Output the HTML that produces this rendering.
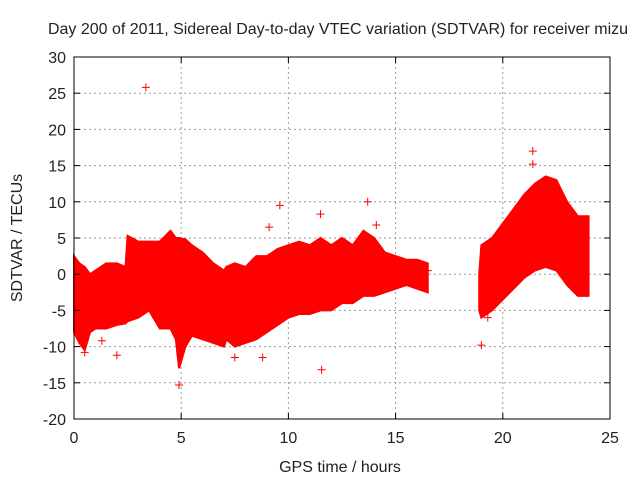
<!DOCTYPE html>
<html><head><meta charset="utf-8"><style>
body{margin:0;background:#fff}
svg text{font-family:"Liberation Sans",sans-serif;font-size:16px;fill:#222}
</style></head><body>
<svg id="c" width="640" height="480" xmlns="http://www.w3.org/2000/svg">
<rect width="640" height="480" fill="#fff"/>
<text x="338" y="34" text-anchor="middle">Day 200 of 2011, Sidereal Day-to-day VTEC variation (SDTVAR) for receiver mizu</text>
<text x="340" y="472" text-anchor="middle">GPS time / hours</text>
<text transform="translate(22,238) rotate(-90)" text-anchor="middle">SDTVAR / TECUs</text>
<g id="grid"></g><g id="data"></g><g id="axes"></g>
</svg>
<script>
const xTicks=[0,5,10,15,20,25];
const yTicks=[-20,-15,-10,-5,0,5,10,15,20,25,30];
const seg1T=[0,0.25,0.5,0.75,1,1.5,2,2.4,2.5,3,3.5,4,4.5,4.75,4.9,5.2,5.5,6,6.5,7,7.1,7.5,8,8.5,9,9.5,10,10.5,11,11.5,12,12.5,13,13.5,14,14.5,15,15.5,16,16.5];
const seg1Up=[2.5,1.5,1,0,0.5,1.5,1.5,1,5.3,4.5,4.5,4.5,6,5,5,4.8,4,3,1.5,0.5,1,1.5,1,2.5,2.5,3.5,4,4.5,4,5,4,5,4,6,5,3,2.5,2,2,1.5];
const seg1Lo=[-8,-9.5,-10.5,-8,-7.5,-7.5,-7,-6.8,-6.5,-6,-5,-7.5,-7.5,-9,-13,-10,-8.5,-9,-9.5,-10,-9,-10,-9.5,-9,-8,-7,-6,-5.5,-5.5,-5,-5,-4,-4,-3,-3,-2.5,-2,-1.5,-2,-2.5];
const seg2T=[18.9,19,19.5,20,20.5,21,21.5,22,22.5,23,23.5,24];
const seg2Up=[0,4,5,7,9,11,12.5,13.5,13,10,8,8];
const seg2Lo=[-5,-6,-5,-3.5,-2,-0.5,0.5,1,0.5,-1.5,-3,-3];
const outT=[3.35,11.55,9.1,9.6,21.4,21.4,19.0,19.3,0.5,2.0,4.9,1.3,14.1,11.5,13.7,8.8,7.5,16.5];
const outV=[25.8,-13.2,6.5,9.5,17,15.2,-9.8,-6,-10.8,-11.2,-15.3,-9.2,6.8,8.3,10,-11.5,-11.5,0.5];
const L=74,R=610,T=57,B=419;
const sx=v=>L+(v-0)/25*(R-L), sy=v=>B-(v+20)/50*(B-T);
const NS="http://www.w3.org/2000/svg";
function mk(p,tag,a){const e=document.createElementNS(NS,tag);for(const k in a)e.setAttribute(k,a[k]);p.appendChild(e);return e;}
const g=document.getElementById('grid'),d=document.getElementById('data'),ax=document.getElementById('axes');
xTicks.forEach(v=>{
 if(v>0&&v<25){const l=mk(g,'line',{x1:sx(v),x2:sx(v),y1:T,y2:B,stroke:'#999','stroke-dasharray':'2,3'});
 }
 mk(ax,'line',{x1:sx(v),x2:sx(v),y1:B,y2:B-6,stroke:'#000'});
 mk(ax,'line',{x1:sx(v),x2:sx(v),y1:T,y2:T+6,stroke:'#000'});
 const tx=mk(ax,'text',{x:sx(v),y:B+24,'text-anchor':'middle'});tx.textContent=v;
 
});
yTicks.forEach(v=>{
 if(v>-20&&v<30){const l=mk(g,'line',{x1:L,x2:R,y1:sy(v),y2:sy(v),stroke:'#999','stroke-dasharray':'2,3'});
 }
 mk(ax,'line',{x1:L,x2:L+6,y1:sy(v),y2:sy(v),stroke:'#000'});
 mk(ax,'line',{x1:R,x2:R-6,y1:sy(v),y2:sy(v),stroke:'#000'});
 const tx=mk(ax,'text',{x:L-8,y:sy(v)+6,'text-anchor':'end'});tx.textContent=v;
 
});
const fr=mk(ax,'rect',{x:L,y:T,width:R-L,height:B-T,fill:'none',stroke:'#000'});

function band(ts,up,lo,name){
 const pts=[];ts.forEach((t,i)=>pts.push(sx(t)+','+sy(up[i])));
 for(let i=ts.length-1;i>=0;i--)pts.push(sx(ts[i])+','+sy(lo[i]));
 const p=mk(d,'polygon',{points:pts.join(' '),fill:'#f00',stroke:'#f00','stroke-width':2});
 
}
band(seg1T,seg1Up,seg1Lo,'sdtvar-band-day');
band(seg2T,seg2Up,seg2Lo,'sdtvar-band-evening');
outT.forEach((t,i)=>{
 const x=sx(t),y=sy(outV[i]);
 const c=mk(d,'path',{d:`M${x-4},${y}H${x+4}M${x},${y-4}V${y+4}`,stroke:'#f00','stroke-width':1});
 
});
</script>
</body></html>
